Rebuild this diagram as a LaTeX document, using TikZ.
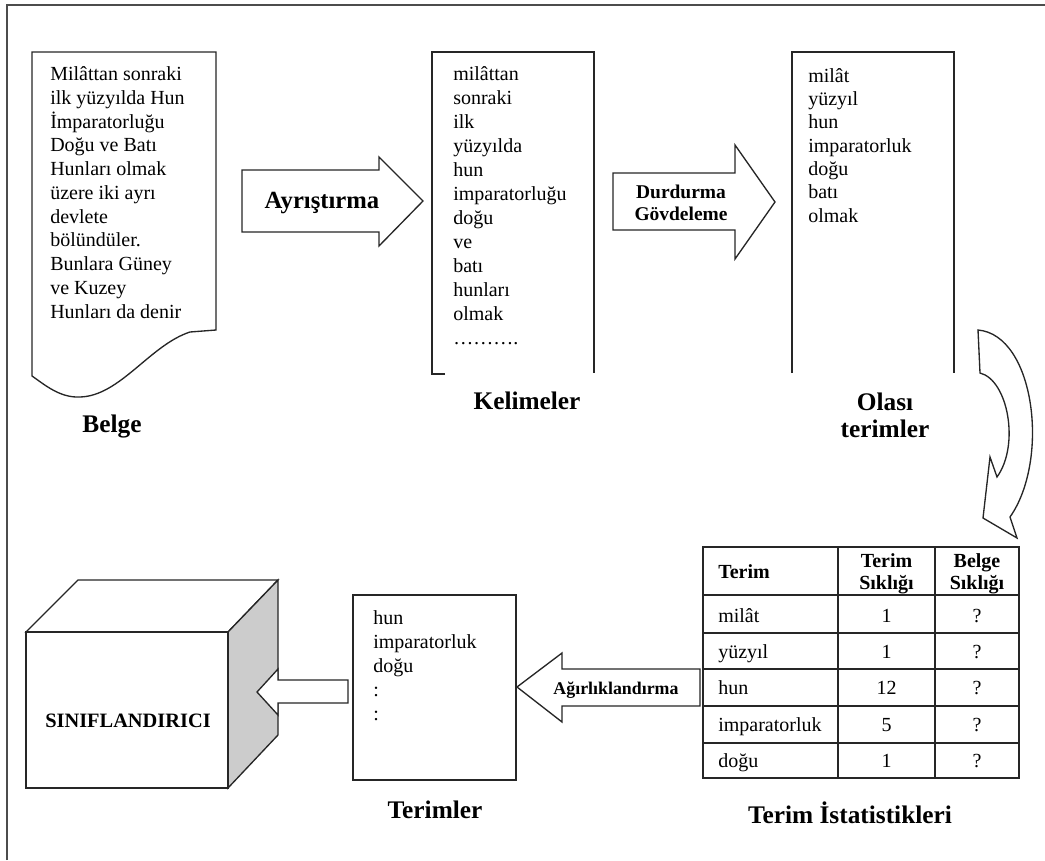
\documentclass[tikz,border=0pt]{standalone}
\usepackage{fontspec}
\setmainfont{Liberation Serif}
\tikzset{
  frame/.style={draw=black!70, line width=0.9pt},
  outline/.style={draw=black!85, line width=1pt, line join=miter},
  blockarrow/.style={draw=black!85, line width=1pt, fill=white, line join=miter},
  % multi-line nodes: the base anchor sits on the last line's baseline
  body/.style={font=\fontsize{15}{17.8}\selectfont, align=left, anchor=base west, inner sep=0pt},
  caption/.style={font=\fontsize{19}{20}\selectfont\bfseries, align=center, anchor=base, inner sep=0pt},
  arrowtext/.style={font=\bfseries, align=center, anchor=base, inner sep=0pt},
  cell/.style={font=\fontsize{15}{16.5}\selectfont, inner sep=0pt, anchor=base},
  headcell/.style={cell, font=\fontsize{15}{16.5}\selectfont\bfseries, align=center},
}
\begin{document}
\begin{tikzpicture}[x=0.75pt, y=-0.75pt]
\useasboundingbox (0,0) rectangle (1045,860);

% outer frame (top and left edges)
\draw[frame] (7,860) -- (7,5) -- (1045,5);

% ---- document (Belge) ----
\draw[outline, fill=white] (32,52) -- (216,52) -- (216,330) -- (190,332)
  .. controls (150,345) and (120,396) .. (80,397)
  .. controls (60,398) and (45,385) .. (32,376) -- cycle;
\node[body] (belgetext) at (50,318) {Milâttan sonraki\\ilk yüzyılda Hun\\İmparatorluğu\\Doğu ve Batı\\Hunları olmak\\üzere iki ayrı\\devlete\\bölündüler.\\Bunlara Güney\\ve Kuzey\\Hunları da denir};
\node[caption] (belge) at (112,432) {Belge};

% ---- Ayrıştırma arrow ----
\draw[blockarrow] (242,170) -- (379,170) -- (379,157) -- (423,201) -- (379,246) -- (379,232) -- (242,232) -- cycle;
\node[arrowtext, font=\fontsize{18.5}{20}\selectfont\bfseries] (ayr) at (322,208) {Ayrıştırma};

% ---- word list (Kelimeler) ----
\draw[outline] (445,374) -- (432,374) -- (432,52) -- (594,52) -- (594,373);
\node[body, font=\fontsize{15}{18}\selectfont] (kelimetext) at (453,344) {milâttan\\sonraki\\ilk\\yüzyılda\\hun\\imparatorluğu\\doğu\\ve\\batı\\hunları\\olmak\\……….};
\node[caption] (kelimeler) at (527,409) {Kelimeler};

% ---- Durdurma / Gövdeleme arrow ----
\draw[blockarrow] (613,173) -- (735,173) -- (735,145) -- (775,202) -- (735,259) -- (735,230) -- (613,230) -- cycle;
\node[arrowtext, font=\fontsize{14.6}{16.5}\selectfont\bfseries] (durd) at (681,220) {Durdurma\\Gövdeleme};

% ---- candidate terms (Olası terimler) ----
\draw[outline] (792,373) -- (792,52) -- (954,52) -- (954,373);
\node[body, font=\fontsize{15}{17.5}\selectfont] (olasitext) at (808,222) {milât\\yüzyıl\\hun\\imparatorluk\\doğu\\batı\\olmak};
\node[caption] (olasi) at (885,437) {Olası\\terimler};

% ---- curved arrow down to the table ----
\draw[blockarrow] (978,330)
  .. controls (1035,335) and (1050,460) .. (1010,517)
  -- (1017,538) -- (983,518) -- (990,457) -- (997,477)
  .. controls (1020,445) and (1008,380) .. (980,373) -- cycle;

% ---- statistics table ----
\draw[outline, line width=1.3pt] (703,547) rectangle (1019,778);
\foreach \yy in {595,633,669,706,743}
  \draw[outline, line width=1.3pt] (703,\yy) -- (1019,\yy);
\foreach \xx in {838,935}
  \draw[outline, line width=1.3pt] (\xx,547) -- (\xx,778);
\node[headcell, anchor=base west] (hterm) at (718,578) {Terim};
\node[headcell] (htf) at (886.5,589) {Terim\\Sıklığı};
\node[headcell] (hdf) at (977,589) {Belge\\Sıklığı};
\foreach \word/\tf/\yy [count=\i] in {milât/1/622, yüzyıl/1/658, hun/12/694, imparatorluk/5/731, doğu/1/767}{
  \node[cell, anchor=base west] (w\i) at (718,\yy) {\word};
  \node[cell] (f\i) at (886.5,\yy) {\tf};
  \node[cell] (d\i) at (977,\yy) {?};
}
\node[caption] (stats) at (850,823) {Terim İstatistikleri};

% ---- Ağırlıklandırma arrow ----
\draw[blockarrow] (700,669) -- (562,669) -- (562,653) -- (517,687) -- (562,722) -- (562,706) -- (700,706) -- cycle;
\node[arrowtext, font=\fontsize{13.4}{15}\selectfont\bfseries] (agir) at (616,694) {Ağırlıklandırma};

% ---- selected terms (Terimler) ----
\draw[outline] (353,595) rectangle (516,780);
\node[body, font=\fontsize{15}{18}\selectfont] (terimtext) at (373,720) {hun\\imparatorluk\\doğu\\:\\:};
\node[caption] (terimler) at (435,818) {Terimler};

% ---- classifier cube ----
\draw[outline, fill=white] (26,632) -- (78,580) -- (278,580) -- (228,632) -- cycle;
\draw[outline, fill=black!20] (228,632) -- (278,580) -- (278,735) -- (228,788) -- cycle;
\draw[outline, fill=white] (26,632) rectangle (228,788);
\node[arrowtext, font=\fontsize{15.3}{17}\selectfont\bfseries] (clf) at (128,727) {SINIFLANDIRICI};

% ---- arrow into the classifier ----
\draw[blockarrow] (348,680) -- (278,680) -- (278,669) -- (257,692) -- (278,715) -- (278,703) -- (348,703) -- cycle;
\end{tikzpicture}
\end{document}
